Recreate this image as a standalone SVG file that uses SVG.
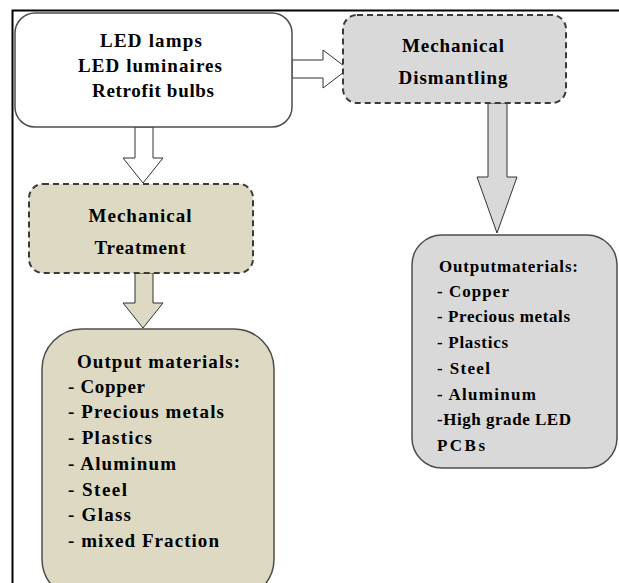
<svg xmlns="http://www.w3.org/2000/svg" width="619" height="583" viewBox="0 0 619 583">
<style>
text{font-family:"Liberation Serif","Times New Roman",serif;font-weight:bold;fill:#000}
.solid{stroke:#4d4d4d;stroke-width:1.5}
.dash{stroke:#3a3a3a;stroke-width:2;stroke-dasharray:6,4}
.arrow{stroke:#333;stroke-width:1}
.beige{fill:#ddd9c3}
.gray{fill:#d9d9d9}
.t1{font-size:19px}
.t2{font-size:19px}
.t3{font-size:19px}
.t4{font-size:17px}
</style>
<rect x="0" y="0" width="619" height="583" fill="#fff"/>
<g id="frame" fill="none" stroke="#000" stroke-width="2">
<path d="M12.5 583 V10.5 H619"/>
</g>
<g id="connectors">
<path class="arrow" fill="#fff" d="M292 60 H323 V50 L348 69 L323 88 V78 H292 Z"/>
<path class="arrow gray" d="M488 103 V177 H477 L497 233 L517 177 H507 V103 Z"/>
<path class="arrow" fill="#fff" d="M135 127 V158 H123 L143 183 L163 158 H153 V127 Z"/>
<path class="arrow beige" d="M135 273 V303 H123 L143 328 L163 303 H153 V273 Z"/>
</g>
<g id="sources">
<rect class="solid" x="15" y="13" width="277" height="114" rx="20" fill="#fff"/>
<text class="t1" x="151" y="47" text-anchor="middle" textLength="102">LED  lamps</text>
<text class="t1" x="150" y="72" text-anchor="middle" textLength="144">LED  luminaires</text>
<text class="t1" x="153" y="97" text-anchor="middle" textLength="122">Retrofit bulbs</text>
</g>
<g id="dismantling">
<rect class="dash gray" x="343" y="15" width="223" height="88" rx="14"/>
<text class="t2" x="453" y="52" text-anchor="middle" textLength="102">Mechanical</text>
<text class="t2" x="453" y="84" text-anchor="middle" textLength="109">Dismantling</text>
</g>
<g id="treatment">
<rect class="dash beige" x="29" y="184" width="224" height="89" rx="14"/>
<text class="t2" x="140" y="222" text-anchor="middle" textLength="103">Mechanical</text>
<text class="t2" x="140" y="254" text-anchor="middle" textLength="91">Treatment</text>
</g>
<g id="output-right">
<rect class="solid gray" x="412" y="235" width="205" height="233" rx="30"/>
<text class="t4" x="439" y="272" textLength="139">Outputmaterials:</text>
<text class="t4" x="437" y="297" textLength="72">- Copper</text>
<text class="t4" x="437" y="322" textLength="133">- Precious metals</text>
<text class="t4" x="437" y="348" textLength="71">- Plastics</text>
<text class="t4" x="437" y="374" textLength="53">- Steel</text>
<text class="t4" x="437" y="400" textLength="99">- Aluminum</text>
<text class="t4" x="437" y="425" textLength="134">-High grade LED</text>
<text class="t4" x="437" y="451" textLength="48">PCBs</text>
</g>
<g id="output-left">
<rect class="solid beige" x="42" y="329" width="232" height="270" rx="40"/>
<text class="t3" x="77" y="368" textLength="163">Output  materials:</text>
<text class="t3" x="68" y="393" textLength="77">- Copper</text>
<text class="t3" x="68" y="418" textLength="156">- Precious metals</text>
<text class="t3" x="68" y="444" textLength="84">- Plastics</text>
<text class="t3" x="68" y="470" textLength="108">- Aluminum</text>
<text class="t3" x="68" y="496" textLength="59">- Steel</text>
<text class="t3" x="68" y="521" textLength="63">- Glass</text>
<text class="t3" x="68" y="547" textLength="151">- mixed  Fraction</text>
</g>
</svg>
